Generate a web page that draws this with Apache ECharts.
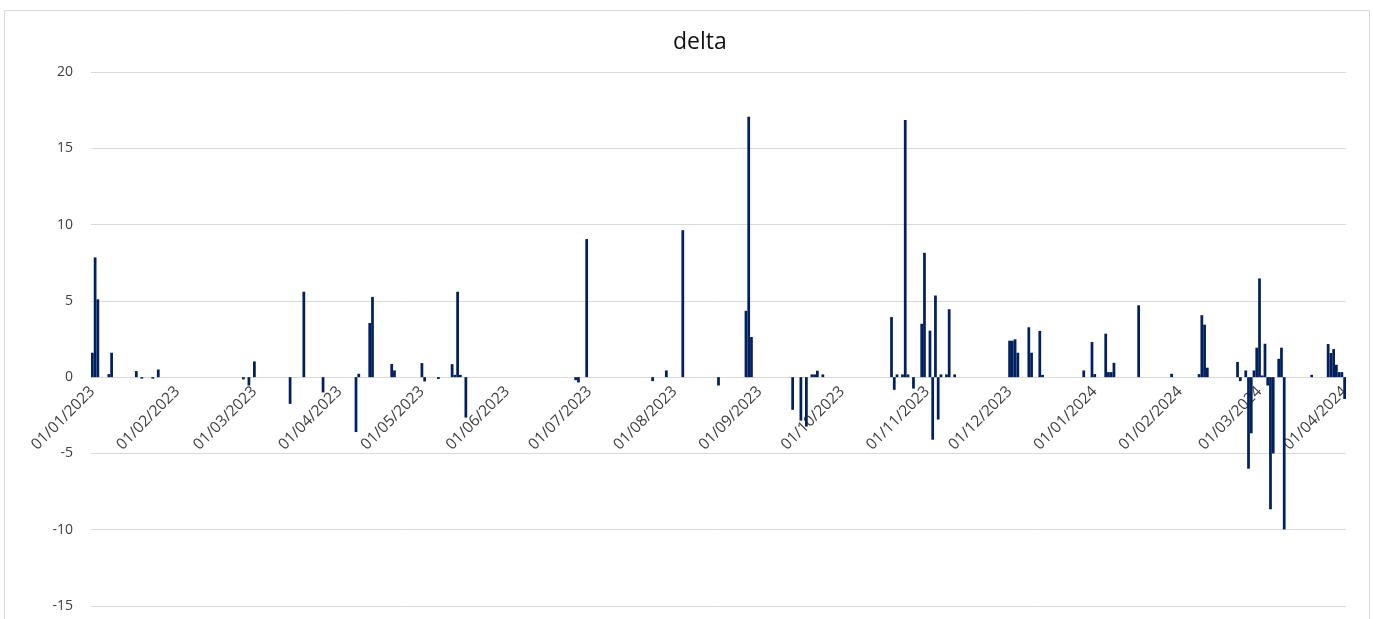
<!DOCTYPE html>
<html>
<head>
<meta charset="utf-8">
<title>delta</title>
<script src="https://cdn.jsdelivr.net/npm/echarts@6/dist/echarts.min.js"></script>
<style>
    html, body { margin: 0; padding: 0; background: #fff; }
    #delta_chart { width: 1373px; height: 619px; }
</style>
</head>
<body>
<div id="delta_chart"></div>
<script>
    var startDay = '2023-01-01';
    var endDay = '2024-04-01';

    // days that have a value, everything else is empty
    var barDates = [
        '2023-01-01', '2023-01-02', '2023-01-03', '2023-01-07', '2023-01-08', '2023-01-17', '2023-01-19', '2023-01-23', '2023-01-25',
        '2023-02-25', '2023-02-27', '2023-03-01', '2023-03-14', '2023-03-19', '2023-03-26',
        '2023-04-07', '2023-04-08', '2023-04-12', '2023-04-13', '2023-04-20', '2023-04-21',
        '2023-05-01', '2023-05-02', '2023-05-07', '2023-05-12', '2023-05-13', '2023-05-14', '2023-05-15', '2023-05-17',
        '2023-06-26', '2023-06-27', '2023-06-30', '2023-07-24', '2023-07-29', '2023-08-04', '2023-08-17',
        '2023-08-27', '2023-08-28', '2023-08-29',
        '2023-09-13', '2023-09-16', '2023-09-18', '2023-09-20', '2023-09-21', '2023-09-22', '2023-09-24',
        '2023-10-19', '2023-10-20', '2023-10-21', '2023-10-23', '2023-10-24', '2023-10-25', '2023-10-27', '2023-10-30', '2023-10-31',
        '2023-11-02', '2023-11-03', '2023-11-04', '2023-11-05', '2023-11-06', '2023-11-08', '2023-11-09', '2023-11-11',
        '2023-12-01', '2023-12-02', '2023-12-03', '2023-12-04', '2023-12-08', '2023-12-09', '2023-12-12', '2023-12-13',
        '2023-12-28', '2023-12-31',
        '2024-01-01', '2024-01-05', '2024-01-06', '2024-01-07', '2024-01-08', '2024-01-17', '2024-01-29',
        '2024-02-08', '2024-02-09', '2024-02-10', '2024-02-11', '2024-02-22', '2024-02-23', '2024-02-25', '2024-02-26',
        '2024-02-27', '2024-02-28', '2024-02-29',
        '2024-03-01', '2024-03-02', '2024-03-03', '2024-03-04', '2024-03-05', '2024-03-06', '2024-03-08', '2024-03-09', '2024-03-10',
        '2024-03-20', '2024-03-26', '2024-03-27', '2024-03-28', '2024-03-29', '2024-03-30', '2024-03-31', '2024-04-01'
    ];
    var barValues = [
        1.6, 7.85, 5.1, 0.2, 1.6, 0.4, -0.1, -0.1, 0.5,
        -0.15, -0.55, 1.03, -1.75, 5.6, -1.0,
        -3.6, 0.22, 3.55, 5.26, 0.86, 0.44,
        0.92, -0.28, -0.12, 0.85, 0.15, 5.6, 0.15, -2.65,
        -0.2, -0.35, 9.05, -0.26, 0.44, 9.63, -0.55,
        4.35, 17.07, 2.63,
        -2.14, -2.85, -3.24, 0.18, 0.18, 0.42, 0.18,
        3.94, -0.83, 0.18, 0.18, 16.85, 0.18, -0.75, 3.5, 8.15,
        3.05, -4.1, 5.35, -2.78, 0.18, 0.18, 4.45, 0.18,
        2.39, 2.39, 2.48, 1.6, 3.27, 1.6, 3.03, 0.15,
        0.44, 2.3,
        0.2, 2.85, 0.33, 0.33, 0.94, 4.71, 0.22,
        0.2, 4.06, 3.44, 0.62, 1.0, -0.26, 0.44, -6.0,
        -3.68, 0.44, 1.93,
        6.47, 0.11, 2.19, -0.55, -8.66, -5.0, 1.2, 1.93, -9.98,
        0.15, 2.17, 1.58, 1.84, 0.81, 0.33, 0.33, -1.43
    ];

    var yTicks = [-15, -10, -5, 0, 5, 10, 15, 20];

    var _echart = null;
    var gridTop = 72;
    var gridBottom = 13;
    var chartHeight = 619;

    function pad(n) {
        return n < 10 ? '0' + n : '' + n;
    }

    function buildDays() {
        var days = [];
        var d = new Date(startDay + 'T00:00:00Z');
        var end = new Date(endDay + 'T00:00:00Z');
        while (d <= end) {
            days.push(d.getUTCFullYear() + '-' + pad(d.getUTCMonth() + 1) + '-' + pad(d.getUTCDate()));
            d = new Date(d.getTime() + 24 * 60 * 60 * 1000);
        }
        return days;
    }

    function isMonthStart(index, value) {
        return value.substr(8, 2) === '01';
    }

    // onZero does not move the category axis here, so shift it up to the zero line by hand
    function zeroOffset() {
        var yMin = yTicks[0];
        var yMax = yTicks[yTicks.length - 1];
        var plotH = chartHeight - gridTop - gridBottom;
        return -plotH * (0 - yMin) / (yMax - yMin);
    }

    function fillCharts() {
        var days = buildDays();
        var lookup = {};
        for (var i = 0; i < barDates.length; i++) {
            lookup[barDates[i]] = barValues[i];
        }
        var values = [];
        for (var j = 0; j < days.length; j++) {
            values.push(lookup[days[j]] === undefined ? 0 : lookup[days[j]]);
        }

        var option = {
            animation: false,
            backgroundColor: '#fff',
            title: {
                text: 'delta',
                left: 668,
                top: 26,
                textStyle: {
                    color: '#111',
                    fontWeight: 'normal',
                    fontFamily: 'Open Sans',
                    fontSize: 23
                }
            },
            graphic: [{
                type: 'rect',
                z: -10,
                shape: { x: 4.5, y: 10.5, width: 1365, height: 700 },
                style: { fill: 'none', stroke: '#d9d9d9', lineWidth: 1 }
            }],
            grid: {
                left: 91,
                right: 27,
                top: gridTop,
                bottom: gridBottom,
                containLabel: false,
                outerBoundsMode: 'none'
            },
            xAxis: {
                type: 'category',
                data: days,
                boundaryGap: true,
                position: 'bottom',
                offset: zeroOffset(),
                z: 0,
                axisLine: {
                    onZero: false,
                    lineStyle: { color: '#d9d9d9', width: 1 }
                },
                axisTick: {
                    interval: isMonthStart,
                    length: 4,
                    lineStyle: { color: '#d9d9d9' }
                },
                axisLabel: {
                    interval: isMonthStart,
                    rotate: 45,
                    margin: 12,
                    color: '#404040',
                    fontFamily: 'Open Sans',
                    fontSize: 15.5,
                    formatter: function (value) {
                        return value.substr(8, 2) + '/' + value.substr(5, 2) + '/' + value.substr(0, 4);
                    }
                },
                splitLine: { show: false }
            },
            yAxis: {
                type: 'value',
                min: yTicks[0],
                max: yTicks[yTicks.length - 1],
                interval: 5,
                axisLine: { show: false },
                axisTick: { show: false },
                axisLabel: {
                    margin: 18,
                    color: '#404040',
                    fontFamily: 'Open Sans',
                    fontSize: 14
                },
                splitLine: {
                    lineStyle: { color: '#d9d9d9', width: 1 }
                }
            },
            series: [{
                name: 'delta',
                type: 'bar',
                z: 5,
                data: values,
                barCategoryGap: '0%',
                itemStyle: { color: '#002060' }
            }]
        };
        _echart.setOption(option);
    }

    _echart = echarts.init(document.getElementById('delta_chart'));
    fillCharts();
</script>
</body>
</html>
